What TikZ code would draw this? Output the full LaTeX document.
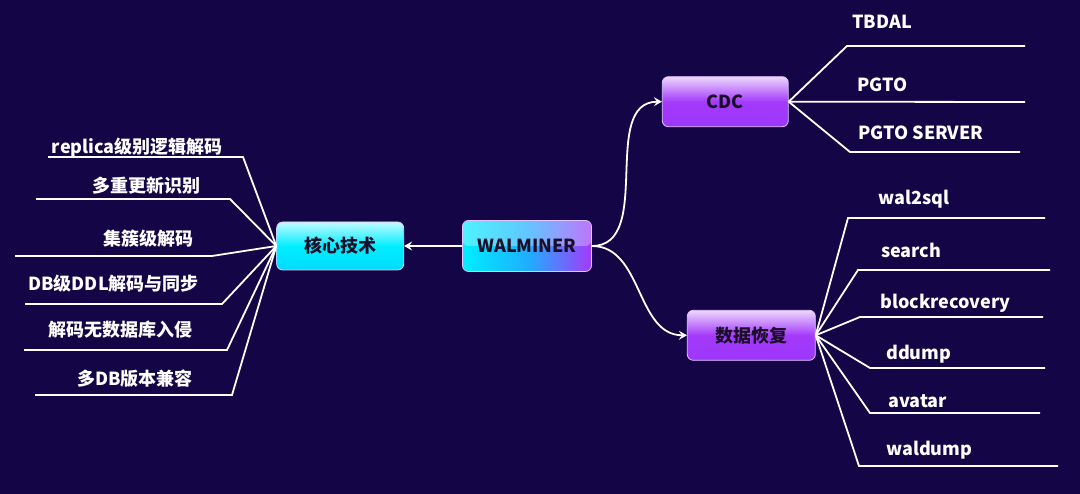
\documentclass[tikz,border=0pt]{standalone}
\usepackage{fontspec}
\newfontfamily\cjk{Noto Sans CJK SC}
\usetikzlibrary{positioning,arrows.meta}
\definecolor{bgnavy}{RGB}{20,6,70}
\definecolor{boxtext}{RGB}{26,14,40}
\definecolor{cyanbox}{RGB}{0,238,255}
\definecolor{bluebox}{RGB}{30,175,255}
\definecolor{purplebox}{RGB}{164,58,250}

\begin{document}
\begin{tikzpicture}[
  x=1pt, y=1pt,
  block/.style={rectangle, rounded corners=6pt, draw=white!70!purplebox, line width=0.8pt, minimum width=128pt, minimum height=50pt, text=boxtext, font=\cjk\bfseries\fontsize{18}{20}\selectfont},
  cyanblock/.style={block, top color=cyanbox!25!white, bottom color=cyanbox!92!blue, middle color=cyanbox},
  purpleblock/.style={block, top color=purplebox!20!white, bottom color=purplebox!95!blue, middle color=purplebox},
  mixblock/.style={block, left color=cyanbox, right color=purplebox, middle color=bluebox,
    path picture={\fill[white, opacity=0.3] (path picture bounding box.north west) rectangle (path picture bounding box.east);}},
  leaf/.style={text=white, inner sep=0pt, font=\cjk\bfseries\fontsize{18}{20}\selectfont},
  branch/.style={white, line width=1.8pt},
  link/.style={white, line width=1.8pt, -{Stealth[length=8pt,width=9pt,inset=3pt]}}
]
\useasboundingbox (0,0) rectangle (1080,494);
\fill[bgnavy] (0,0) rectangle (1080,494);

\node[mixblock, minimum height=51pt, minimum width=129pt] (wal) at (527,248) {WALMINER};
\node[cyanblock, minimum height=48pt, minimum width=127pt, left=58pt of wal] (core) {核心技术};
\node[purpleblock, minimum width=126pt, above right=93pt and 70pt of wal] (cdc) {CDC};
\node[purpleblock, below right=38pt and 95pt of wal] (rec) {数据恢复};

% Arrows
\draw[link] (wal.west) -- (core.east);
\draw[link] (wal.east) to[out=0,in=180] (cdc.west);
\draw[link] (wal.east) to[out=0,in=180] (rec.west);

% Core techniques
\coordinate (k1) at (243,337); \coordinate (k1e) at (48,337);
\coordinate (k2) at (230,295); \coordinate (k2e) at (36,295);
\coordinate (k3) at (212,238); \coordinate (k3e) at (15,238);
\coordinate (k4) at (222,190); \coordinate (k4e) at (25,190);
\coordinate (k5) at (227,144); \coordinate (k5e) at (24,144);
\coordinate (k6) at (232,99);  \coordinate (k6e) at (35,99);
\node[leaf, anchor=east] (replica) at (223,346.5) {replica级别逻辑解码};
\node[leaf, anchor=east] (multi) at (201,308.5) {多重更新识别};
\node[leaf, anchor=east] (cluster) at (194,255.5) {集簇级解码};
\node[leaf, anchor=east] (ddl) at (199,210.5) {DB级DDL解码与同步};
\node[leaf, anchor=east] (intrude) at (193,164) {解码无数据库入侵};
\node[leaf, anchor=east] (compat) at (193,115.5) {多DB版本兼容};
\draw[branch] (core.west) -- (k1) -- (k1e);
\draw[branch] (core.west) -- (k2) -- (k2e);
\draw[branch] (core.west) -- (k3) -- (k3e);
\draw[branch] (core.west) -- (k4) -- (k4e);
\draw[branch] (core.west) -- (k5) -- (k5e);
\draw[branch] (core.west) -- (k6) -- (k6e);

% CDC tools
\coordinate (c1) at (847,448); \coordinate (c1e) at (1025,448);
\coordinate (c2e) at (1025,392);
\coordinate (c3) at (850,342); \coordinate (c3e) at (1020,342);
\node[leaf, anchor=west] (tbdal) at (852,472) {TBDAL};
\node[leaf, anchor=west] (pgto) at (857,409) {PGTO};
\node[leaf, anchor=west] (pgtoserver) at (858,361) {PGTO SERVER};
\draw[branch] (cdc.east) -- (c1) -- (c1e);
\draw[branch] (cdc.east) -- (c2e);
\draw[branch] (cdc.east) -- (c3) -- (c3e);

% Recovery tools
\coordinate (r1) at (848,276); \coordinate (r1e) at (1045,276);
\coordinate (r2) at (858,224); \coordinate (r2e) at (1050,224);
\coordinate (r3) at (860,177); \coordinate (r3e) at (1043,177);
\coordinate (r4) at (870,126); \coordinate (r4e) at (1045,126);
\coordinate (r5) at (870,81);  \coordinate (r5e) at (1040,81);
\coordinate (r6) at (859,28);  \coordinate (r6e) at (1058,28);
\node[leaf, anchor=west] (walsql) at (878,294.5) {wal2sql};
\node[leaf, anchor=west] (search) at (881,244) {search};
\node[leaf, anchor=west] (block) at (880,190.5) {blockrecovery};
\node[leaf, anchor=west] (ddump) at (886,139.5) {ddump};
\node[leaf, anchor=west] (avatar) at (888,92.5) {avatar};
\node[leaf, anchor=west] (waldump) at (886,44) {waldump};
\draw[branch] (rec.east) -- (r1) -- (r1e);
\draw[branch] (rec.east) -- (r2) -- (r2e);
\draw[branch] (rec.east) -- (r3) -- (r3e);
\draw[branch] (rec.east) -- (r4) -- (r4e);
\draw[branch] (rec.east) -- (r5) -- (r5e);
\draw[branch] (rec.east) -- (r6) -- (r6e);
\end{tikzpicture}
\end{document}
